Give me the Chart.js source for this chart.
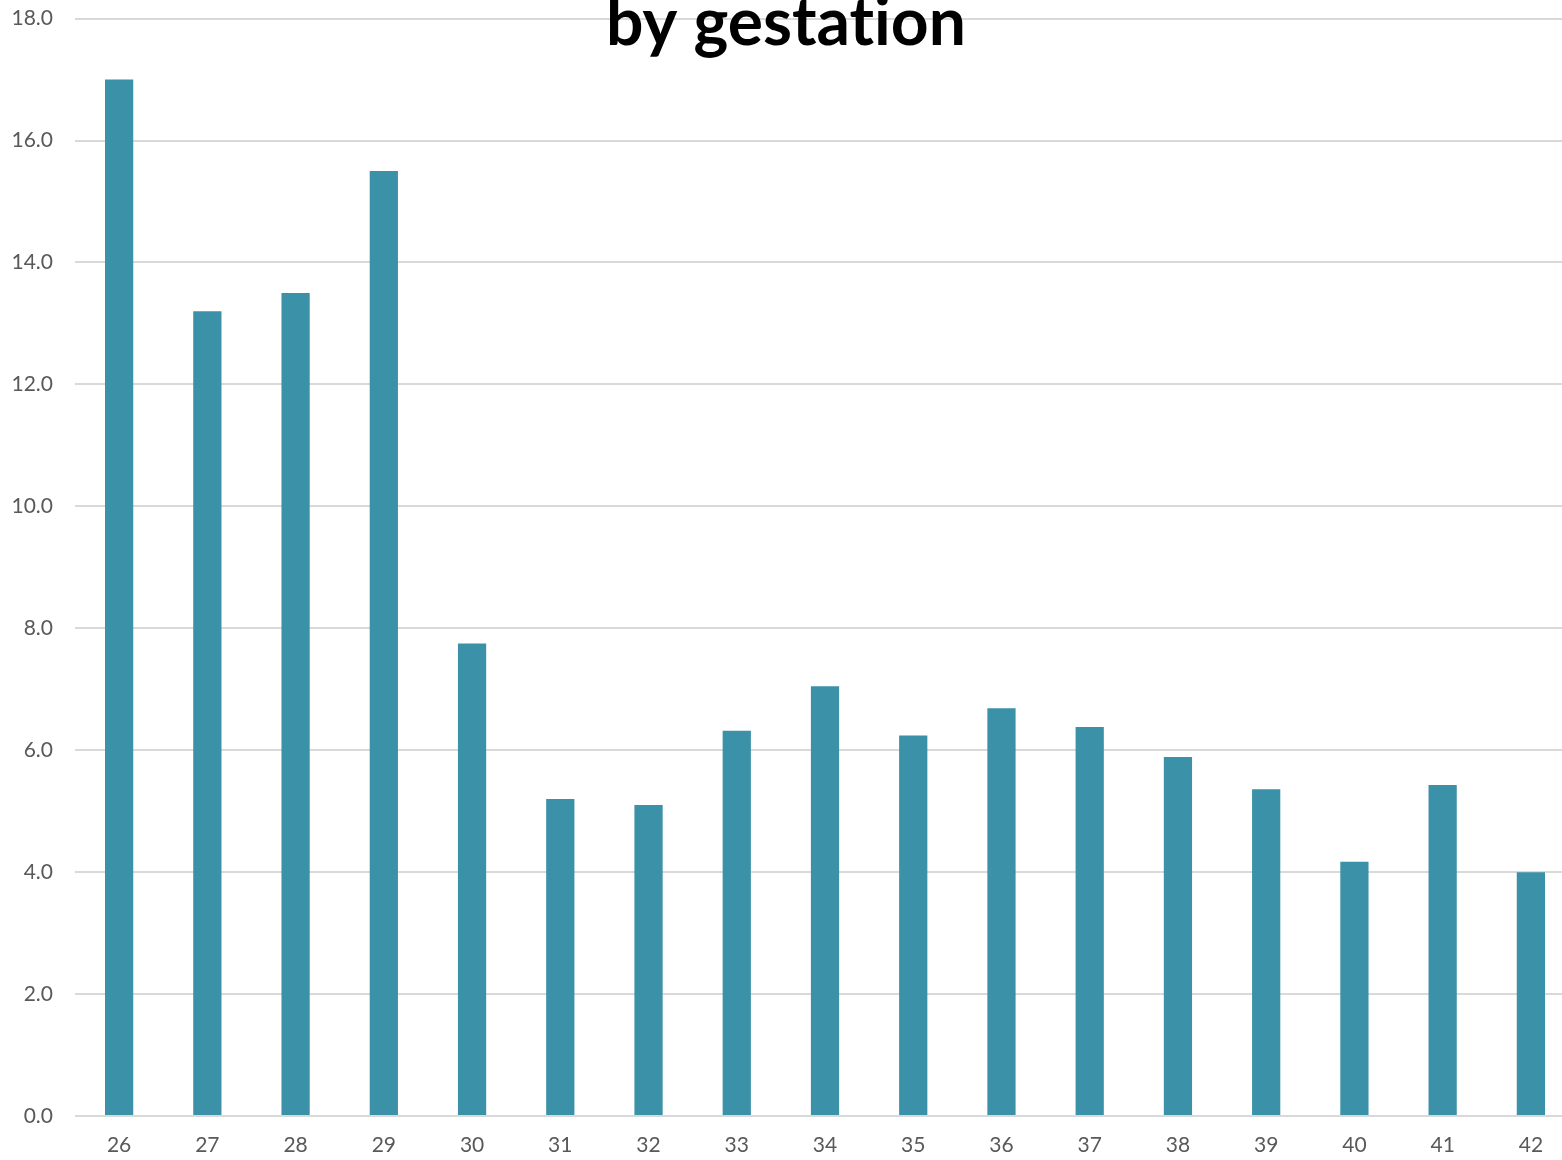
<!DOCTYPE html>
<html>
<head>
<meta charset="utf-8">
<script src="https://cdn.jsdelivr.net/npm/chart.js@4.4.1/dist/chart.umd.min.js"></script>
<style>
  html, body { margin: 0; padding: 0; background: #fff; overflow: hidden; }
  #wrap { position: relative; width: 1580px; height: 1176px; margin-top: -16px; }
</style>
</head>
<body>
<div id="wrap"><canvas id="chartCanvas"></canvas></div>
<script>
// gestation weeks
const weeks = ['26', '27', '28', '29', '30', '31', '32', '33', '34', '35', '36', '37', '38', '39', '40', '41', '42'];
const rates = [17.0, 13.2, 13.5, 15.5, 7.75, 5.2, 5.1, 6.32, 7.05, 6.24, 6.69, 6.38, 5.89, 5.36, 4.17, 5.43, 4.0];
const yTicks = [0, 2, 4, 6, 8, 10, 12, 14, 16, 18];
// zero-width non-joiner keeps the "ti" from turning into a ligature
const titleText = 'by gestat\u200Cion';

const labelFont = { family: 'Lato, "Open Sans", sans-serif', size: 21 };

// title sits partly cut off at the top of the picture
const clippedTitle = {
  id: 'clippedTitle',
  afterDraw(chart) {
    const ctx = chart.ctx;
    ctx.save();
    ctx.font = 'bold 66px Lato, "Open Sans", sans-serif';
    ctx.fillStyle = '#000';
    ctx.textAlign = 'center';
    ctx.textBaseline = 'alphabetic';
    ctx.fillText(titleText, 786, 61);
    ctx.restore();
  }
};

function initChart() {
  const ctx = document.getElementById('chartCanvas').getContext('2d');
  new Chart(ctx, {
    type: 'bar',
    data: {
      labels: weeks,
      datasets: [{
        data: rates,
        backgroundColor: '#3a91a8',
        borderWidth: 0,
        barPercentage: 0.32,
        categoryPercentage: 1.0
      }]
    },
    options: {
      responsive: true,
      maintainAspectRatio: false,
      animation: false,
      layout: { padding: { top: 2, right: 5, bottom: 0, left: 0 } },
      plugins: {
        legend: { display: false },
        title: { display: false },
        tooltip: { enabled: false }
      },
      scales: {
        x: {
          grid: { display: false, drawTicks: false },
          border: { display: false },
          ticks: { color: '#595959', font: labelFont, padding: 17, maxRotation: 0 },
          afterFit: scale => { scale.height = 44; }
        },
        y: {
          min: 0,
          max: 18,
          afterBuildTicks: scale => { scale.ticks = yTicks.map(v => ({ value: v })); },
          grid: { color: '#d9d9d9', lineWidth: 2, drawTicks: false },
          border: { display: false },
          ticks: {
            color: '#595959',
            font: labelFont,
            padding: 22,
            callback: v => Number(v).toFixed(1)
          },
          afterFit: scale => { scale.width = 75; }
        }
      }
    },
    plugins: [clippedTitle]
  });
}

window.addEventListener('load', initChart);
</script>
</body>
</html>
